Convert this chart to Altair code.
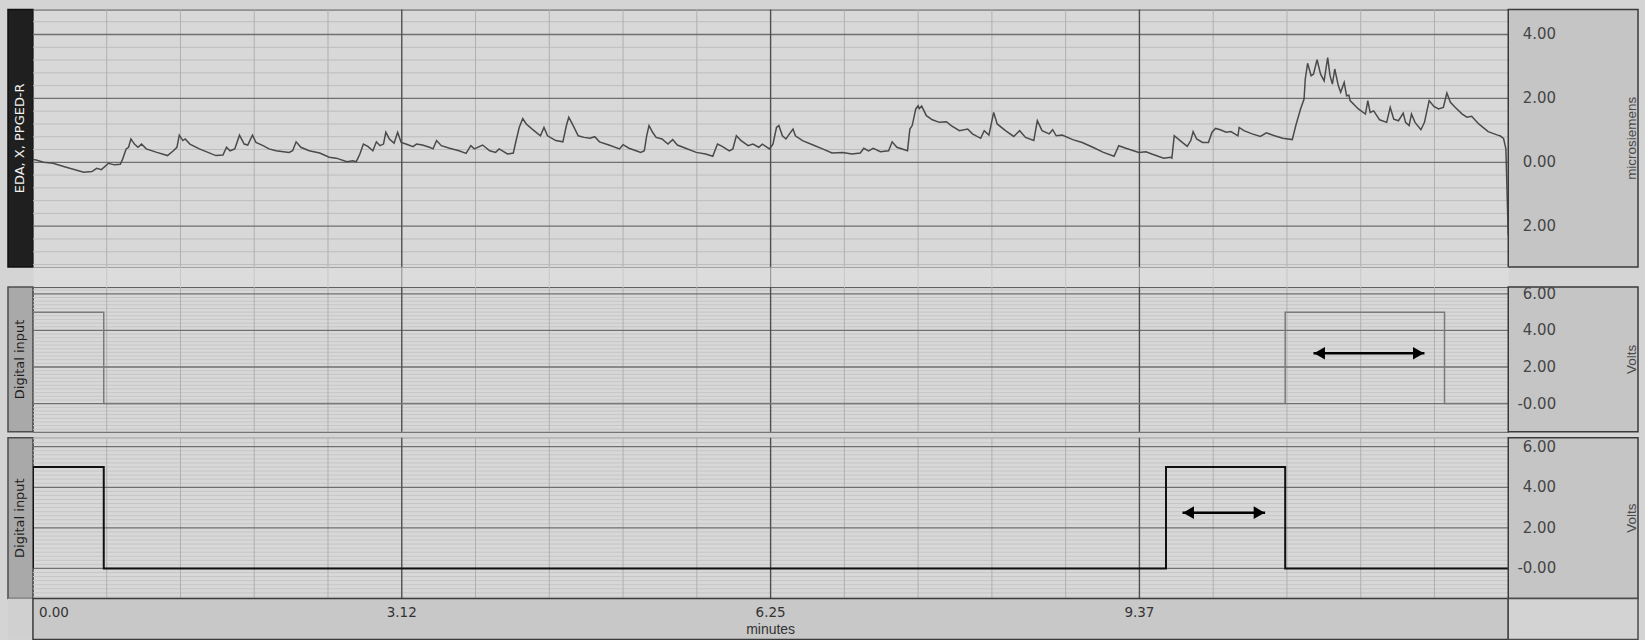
import altair as alt
import pandas as pd

# ---- EDA trace: time (minutes) and skin conductance (microsiemens) ----
eda_t = [0.00, 0.02, 0.09, 0.17, 0.26, 0.43, 0.50, 0.54, 0.58, 0.64, 0.69, 0.74, 0.76, 0.79, 0.81,
         0.83, 0.86, 0.89, 0.92, 0.96, 1.05, 1.14, 1.19, 1.22, 1.24, 1.27, 1.29, 1.33, 1.41, 1.55,
         1.61, 1.64, 1.67, 1.71, 1.75, 1.79, 1.82, 1.86, 1.89, 1.95, 2.00, 2.06, 2.17, 2.20, 2.23,
         2.27, 2.34, 2.43, 2.51, 2.57, 2.66, 2.71, 2.74, 2.77, 2.80, 2.84, 2.88, 2.91, 2.94, 2.97,
         2.99, 3.02, 3.06, 3.09, 3.12, 3.16, 3.22, 3.25, 3.30, 3.36, 3.39, 3.42, 3.46, 3.53, 3.61,
         3.67, 3.71, 3.74, 3.81, 3.87, 3.92, 3.95, 4.02, 4.07, 4.09, 4.12, 4.15, 4.18, 4.23, 4.30,
         4.33, 4.36, 4.43, 4.49, 4.52, 4.54, 4.57, 4.62, 4.67, 4.72, 4.76, 4.80, 4.88, 4.97, 5.00,
         5.05, 5.11, 5.15, 5.18, 5.20, 5.22, 5.25, 5.28, 5.33, 5.38, 5.42, 5.46, 5.53, 5.62, 5.70,
         5.76, 5.80, 5.84, 5.90, 5.93, 5.96, 6.00, 6.06, 6.10, 6.15, 6.18, 6.24, 6.27, 6.30, 6.32,
         6.35, 6.38, 6.41, 6.44, 6.46, 6.52, 6.61, 6.69, 6.77, 6.86, 6.94, 7.01, 7.04, 7.08, 7.12,
         7.18, 7.25, 7.28, 7.32, 7.41, 7.43, 7.45, 7.48, 7.50, 7.51, 7.53, 7.57, 7.62, 7.68, 7.74,
         7.78, 7.85, 7.92, 7.96, 8.03, 8.06, 8.10, 8.14, 8.17, 8.24, 8.31, 8.36, 8.41, 8.48, 8.51,
         8.55, 8.61, 8.64, 8.67, 8.72, 8.81, 8.89, 8.98, 9.07, 9.16, 9.20, 9.26, 9.37, 9.43, 9.48,
         9.58, 9.64, 9.65, 9.67, 9.72, 9.78, 9.81, 9.83, 9.86, 9.91, 9.96, 9.99, 10.02, 10.06, 10.11,
         10.15, 10.21, 10.22, 10.26, 10.33, 10.40, 10.45, 10.52, 10.59, 10.67, 10.70, 10.74, 10.77,
         10.78, 10.80, 10.83, 10.85, 10.88, 10.91, 10.94, 10.97, 10.99, 11.01, 11.03, 11.06, 11.08,
         11.11, 11.13, 11.15, 11.16, 11.23, 11.29, 11.31, 11.33, 11.36, 11.41, 11.47, 11.50, 11.53,
         11.57, 11.61, 11.63, 11.66, 11.68, 11.71, 11.76, 11.79, 11.83, 11.87, 11.91, 11.95, 11.98,
         12.01, 12.05, 12.11, 12.15, 12.19, 12.25, 12.33, 12.41, 12.43, 12.46, 12.48, 12.50]
eda_v = [0.08, 0.08, 0.00, -0.03, -0.13, -0.31, -0.29, -0.19, -0.23, -0.03, -0.08, -0.06, 0.10, 0.42, 0.47,
         0.73, 0.57, 0.47, 0.57, 0.42, 0.31, 0.21, 0.36, 0.47, 0.85, 0.68, 0.73, 0.57, 0.42, 0.21,
         0.23, 0.47, 0.36, 0.42, 0.85, 0.57, 0.54, 0.85, 0.62, 0.52, 0.42, 0.36, 0.31, 0.36, 0.64,
         0.47, 0.36, 0.29, 0.16, 0.13, 0.02, 0.05, 0.02, 0.26, 0.57, 0.49, 0.36, 0.64, 0.52, 0.57,
         0.94, 0.73, 0.60, 0.94, 0.62, 0.57, 0.49, 0.57, 0.54, 0.47, 0.42, 0.68, 0.52, 0.44, 0.36,
         0.28, 0.52, 0.42, 0.54, 0.36, 0.31, 0.42, 0.26, 0.29, 0.62, 1.09, 1.37, 1.20, 1.04, 0.83,
         1.09, 0.83, 0.68, 0.64, 1.15, 1.41, 1.20, 0.83, 0.78, 0.75, 0.80, 0.64, 0.54, 0.42, 0.55,
         0.44, 0.36, 0.31, 0.36, 0.83, 1.15, 0.94, 0.78, 0.73, 0.57, 0.71, 0.54, 0.44, 0.31, 0.26,
         0.19, 0.57, 0.50, 0.36, 0.42, 0.83, 0.68, 0.52, 0.57, 0.47, 0.57, 0.42, 0.57, 1.09, 1.15,
         0.83, 0.73, 0.89, 1.04, 0.83, 0.68, 0.54, 0.42, 0.29, 0.31, 0.26, 0.29, 0.44, 0.36, 0.44,
         0.33, 0.36, 0.64, 0.47, 0.36, 1.04, 1.15, 1.67, 1.77, 1.68, 1.76, 1.46, 1.33, 1.25, 1.27,
         1.15, 0.99, 1.04, 0.89, 0.75, 0.99, 0.85, 1.56, 1.20, 0.99, 0.81, 0.99, 0.78, 0.68, 1.30,
         0.99, 0.89, 1.02, 0.83, 0.85, 0.71, 0.62, 0.47, 0.31, 0.19, 0.52, 0.44, 0.31, 0.33, 0.26,
         0.13, 0.16, 0.13, 0.83, 0.68, 0.50, 0.68, 0.96, 0.73, 0.62, 0.62, 0.94, 1.06, 1.02, 0.94,
         0.96, 0.83, 1.09, 0.99, 0.89, 0.81, 0.92, 0.83, 0.75, 0.71, 1.15, 1.67, 1.98,
         2.60, 3.10, 2.71, 2.76, 3.21, 2.76, 2.55, 3.28, 2.71, 2.45, 2.92, 2.40, 2.19,
         2.50, 2.08, 2.10, 1.93, 1.67, 1.51, 1.93, 1.56, 1.61, 1.33, 1.25, 1.72, 1.35,
         1.30, 1.54, 1.25, 1.15, 1.51, 1.25, 1.02, 1.25, 1.93, 1.75, 1.67, 1.72, 2.17,
         1.88, 1.72, 1.51, 1.41, 1.44, 1.20, 0.96, 0.85, 0.83, 0.75, 0.42, -2.29]

# ---- Digital inputs: pulse on/off times (minutes) and high level (volts) ----
din1_on = [0.0, 10.61]
din1_off = [0.60, 11.96]
din2_on = [0.0, 9.60]
din2_off = [0.60, 10.61]
pulse_high = 5.0
pulse_low = 0.0

# interval arrows drawn inside the second pulse of each input
arrow1 = {"start": [10.85], "end": [11.79], "level": [2.75]}
arrow2 = {"start": [9.74], "end": [10.44], "level": [2.75]}

# ---- axes ----
t_end = 12.5
x_tick_values = [0.0, 3.125, 6.25, 9.375]
x_tick_labels = ["0.00", "3.12", "6.25", "9.37"]
x_minor = [0.625 * k for k in range(1, 20) if k % 5]
x_major = [3.125, 6.25, 9.375]

eda_ticks = [4.0, 2.0, 0.0, -2.0]
eda_tick_labels = ["4.00", "2.00", "0.00", "2.00"]
eda_domain = [-3.28, 4.78]
eda_minor = [round(-3.2 + 0.4 * k, 2) for k in range(20)]

volt_ticks = [6.0, 4.0, 2.0, 0.0]
volt_tick_labels = ["6.00", "4.00", "2.00", "-0.00"]
din1_domain = [-1.54, 6.37]
din2_domain = [-1.48, 6.44]
volt_minor = [round(-1.4 + 0.2 * k, 2) for k in range(40)]

FONT = "DejaVu Sans"
UNIT_FONT = "Liberation Sans"
PLOT_W = 1478
LABEL_W = 25
BOX_W = 130
H1, H2, H3, HB = 258, 145, 161, 41
GAP12, GAP23 = 20, 6

PLOT_BG = "#d8d8d8"
MAJOR_H = "#6f6f6f"
MAJOR_V = "#4f4f4f"

xs = alt.Scale(domain=[0, t_end], nice=False, zero=False)


def v_grid(minor_color, major_color, major_w=1.4):
    v_minor = alt.Chart(pd.DataFrame({"t": x_minor})).mark_rule(
        color=minor_color, strokeWidth=1).encode(x=alt.X("t:Q", scale=xs, axis=None))
    v_major = alt.Chart(pd.DataFrame({"t": x_major})).mark_rule(
        color=major_color, strokeWidth=major_w).encode(x=alt.X("t:Q", scale=xs, axis=None))
    return v_minor, v_major


def grid_layers(domain, y_minor, y_major, minor_color):
    ymin = [v for v in y_minor if v not in y_major and domain[0] < v < domain[1]]
    sc = alt.Scale(domain=domain, nice=False, zero=False)
    h_minor = alt.Chart(pd.DataFrame({"v": ymin})).mark_rule(
        color=minor_color, strokeWidth=1).encode(y=alt.Y("v:Q", scale=sc, axis=None))
    h_major = alt.Chart(pd.DataFrame({"v": y_major})).mark_rule(
        color=MAJOR_H, strokeWidth=1.3).encode(y=alt.Y("v:Q", scale=sc, axis=None))
    v_minor, v_major = v_grid("#b0b0b0", MAJOR_V)
    return [h_minor, v_minor, h_major, v_major]


def side_label(name, height, fill, stroke, color):
    return alt.Chart(pd.DataFrame({"n": [name]})).mark_text(
        angle=270, font=FONT, fontSize=13, color=color
    ).encode(text="n:N").properties(
        width=LABEL_W, height=height,
        view=alt.ViewBackground(fill=fill, stroke=stroke, strokeWidth=1.5))


def value_box(ticks, labels, domain, unit, height):
    sc = alt.Scale(domain=domain, nice=False, zero=False)
    tick_text = alt.Chart(pd.DataFrame({"v": ticks, "lab": labels})).mark_text(
        align="right", baseline="middle", dx=-17, font=FONT, fontSize=15, color="#454545"
    ).encode(y=alt.Y("v:Q", scale=sc, axis=None), text="lab:N")
    unit_text = alt.Chart(pd.DataFrame({"u": [unit]})).mark_text(
        angle=270, dy=59, font=UNIT_FONT, fontSize=13.5, color="#4a4a4a"
    ).encode(text="u:N")
    return alt.layer(tick_text, unit_text).properties(
        width=BOX_W, height=height,
        view=alt.ViewBackground(fill="#c5c5c5", stroke="#3a3a3a", strokeWidth=1.5))


def pulse_frame(on, off):
    pts_t, pts_v = [], []
    for a, b in zip(on, off):
        pts_t += [a, a, b, b]
        pts_v += [pulse_low, pulse_high, pulse_high, pulse_low]
    pts_t.append(t_end)
    pts_v.append(pulse_low)
    return pd.DataFrame({"t": pts_t, "v": pts_v, "i": list(range(len(pts_t)))})


def arrow_layers(arrow, sc):
    df = pd.DataFrame(arrow)
    shaft = alt.Chart(df).mark_rule(color="#000000", strokeWidth=2.5).encode(
        x=alt.X("start:Q", scale=xs, axis=None), x2="end:Q",
        y=alt.Y("level:Q", scale=sc, axis=None))
    left = alt.Chart(df).mark_point(shape="triangle-left", filled=True, size=160,
                                    color="#000000", opacity=1, xOffset=6).encode(
        x=alt.X("start:Q", scale=xs, axis=None), y=alt.Y("level:Q", scale=sc, axis=None))
    right = alt.Chart(df).mark_point(shape="triangle-right", filled=True, size=160,
                                     color="#000000", opacity=1, xOffset=-6).encode(
        x=alt.X("end:Q", scale=xs, axis=None), y=alt.Y("level:Q", scale=sc, axis=None))
    return [shaft, left, right]


def blank(width, height, fill="transparent", stroke="transparent"):
    vb = alt.ViewBackground(fill=fill, stroke=stroke, strokeWidth=1.5)
    return alt.Chart(pd.DataFrame({"n": [""]})).mark_text().encode(text="n:N").properties(
        width=width, height=height, view=vb)


plot_view = alt.ViewBackground(fill=PLOT_BG, stroke="#5a5a5a", strokeWidth=1)

# ---- EDA panel ----
eda_sc = alt.Scale(domain=eda_domain, nice=False, zero=False)
eda_line = alt.Chart(pd.DataFrame({"t": eda_t, "v": eda_v})).mark_line(
    color="#4a4a4a", strokeWidth=1.5, clip=True
).encode(x=alt.X("t:Q", scale=xs, axis=None), y=alt.Y("v:Q", scale=eda_sc, axis=None))
eda_plot = alt.layer(
    *grid_layers(eda_domain, eda_minor, eda_ticks, "#bdbdbd"), eda_line
).properties(width=PLOT_W, height=H1, view=plot_view)

# separator strip between the EDA and digital panels, time grid shows through faintly
sep_strip = alt.layer(*v_grid("#c8c8c8", "#9a9a9a", 1.2)).properties(
    width=PLOT_W, height=GAP12,
    view=alt.ViewBackground(fill="#dcdcdc", stroke="transparent"))

# ---- first digital input ----
d1_sc = alt.Scale(domain=din1_domain, nice=False, zero=False)
d1_line = alt.Chart(pulse_frame(din1_on, din1_off)).mark_line(
    color="#7a7a7a", strokeWidth=1.5, clip=True
).encode(x=alt.X("t:Q", scale=xs, axis=None), y=alt.Y("v:Q", scale=d1_sc, axis=None), order="i:Q")
d1_plot = alt.layer(
    *grid_layers(din1_domain, volt_minor, volt_ticks, "#c6c6c6"), d1_line,
    *arrow_layers(arrow1, d1_sc)
).properties(width=PLOT_W, height=H2, view=plot_view)

# ---- second digital input ----
d2_sc = alt.Scale(domain=din2_domain, nice=False, zero=False)
d2_line = alt.Chart(pulse_frame(din2_on, din2_off)).mark_line(
    color="#111111", strokeWidth=2, clip=True
).encode(x=alt.X("t:Q", scale=xs, axis=None), y=alt.Y("v:Q", scale=d2_sc, axis=None), order="i:Q")
d2_plot = alt.layer(
    *grid_layers(din2_domain, volt_minor, volt_ticks, "#c6c6c6"), d2_line,
    *arrow_layers(arrow2, d2_sc)
).properties(width=PLOT_W, height=H3, view=plot_view)

# ---- time axis strip ----
tick_df = pd.DataFrame({"t": x_tick_values, "lab": x_tick_labels})
first_lab = alt.Chart(tick_df.iloc[:1]).mark_text(
    align="left", baseline="middle", dx=6, dy=-6, font=FONT, fontSize=13.5, color="#333333"
).encode(x=alt.X("t:Q", scale=xs, axis=None), text="lab:N")
other_labs = alt.Chart(tick_df.iloc[1:]).mark_text(
    align="center", baseline="middle", dy=-6, font=FONT, fontSize=13.5, color="#333333"
).encode(x=alt.X("t:Q", scale=xs, axis=None), text="lab:N")
x_title = alt.Chart(pd.DataFrame({"u": ["minutes"]})).mark_text(
    baseline="middle", dy=11, font=UNIT_FONT, fontSize=14, color="#333333"
).encode(text="u:N")
axis_strip = alt.layer(first_lab, other_labs, x_title).properties(
    width=PLOT_W, height=HB,
    view=alt.ViewBackground(fill="#c8c8c8", stroke="#3a3a3a", strokeWidth=1.5))

# ---- 3-column grid: channel label | plot | value box ----
cells = [
    side_label("EDA, X, PPGED-R", H1, "#1f1f1f", "#111111", "#f2f2f2"),
    eda_plot,
    value_box(eda_ticks, eda_tick_labels, eda_domain, "microsiemens", H1),
    blank(LABEL_W, GAP12), sep_strip, blank(BOX_W, GAP12),
    side_label("Digital input", H2, "#a9a9a9", "#4d4d4d", "#1e1e1e"),
    d1_plot,
    value_box(volt_ticks, volt_tick_labels, din1_domain, "Volts", H2),
    blank(LABEL_W, GAP23), blank(PLOT_W, GAP23), blank(BOX_W, GAP23),
    side_label("Digital input", H3, "#a9a9a9", "#4d4d4d", "#1e1e1e"),
    d2_plot,
    value_box(volt_ticks, volt_tick_labels, din2_domain, "Volts", H3),
    blank(LABEL_W, HB, "#d0d0d0"),
    axis_strip,
    blank(BOX_W, HB, "#d3d3d3", "#4a4a4a"),
]

chart = alt.concat(*cells, columns=3, spacing=0, bounds="flush").properties(
    background="#d4d4d4",
    padding={"left": 7, "top": 7, "right": 5, "bottom": 0},
)

chart.save("out.html", embed_options={"renderer": "svg", "actions": False})
